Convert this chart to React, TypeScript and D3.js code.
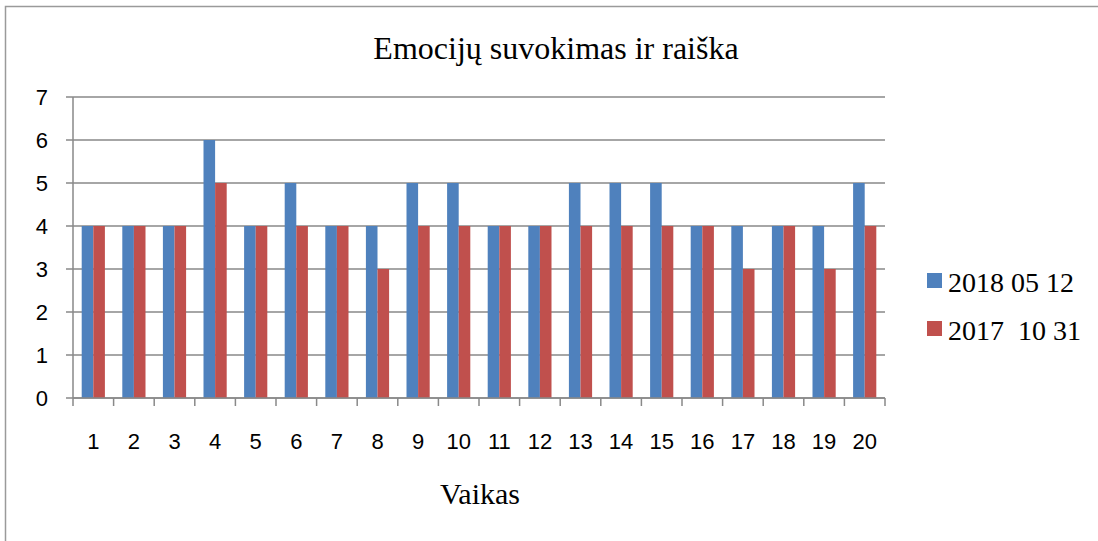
import { useEffect, useRef } from "react";
import * as d3 from "d3";

const categories = ["1", "2", "3", "4", "5", "6", "7", "8", "9", "10", "11", "12", "13", "14", "15", "16", "17", "18", "19", "20"];
const seriesNames = ["2018 05 12", "2017  10 31"];
const values2018 = [4, 4, 4, 6, 4, 5, 4, 4, 5, 5, 4, 4, 5, 5, 5, 4, 4, 4, 4, 5];
const values2017 = [4, 4, 4, 5, 4, 4, 4, 3, 4, 4, 4, 4, 4, 4, 4, 4, 3, 4, 3, 4];
const yTicks = [0, 1, 2, 3, 4, 5, 6, 7];
const colors = ["#4F81BD", "#C0504D"];

export default function App() {
  const ref = useRef<SVGSVGElement>(null);

  useEffect(() => {
    const width = 1098;
    const height = 541;
    const margin = { top: 97, right: 213, bottom: 143, left: 73 };
    const grey = "#898989";
    const sans = "Liberation Sans, Arial, sans-serif";
    const serif = "Liberation Serif, Times New Roman, DejaVu Serif, serif";

    const svg = d3.select(ref.current).attr("width", width).attr("height", height);
    svg.selectAll("*").remove();

    // outer frame (only left/top visible in the picture)
    svg
      .append("rect")
      .attr("x", 5.5)
      .attr("y", 6.5)
      .attr("width", width + 20)
      .attr("height", height + 20)
      .attr("fill", "white")
      .attr("stroke", "#9a9a9a")
      .attr("stroke-width", 1.5);

    const x0 = d3
      .scaleBand()
      .domain(categories)
      .range([margin.left, width - margin.right])
      .paddingInner(0.4286)
      .paddingOuter(0.2143);

    const x1 = d3.scaleBand().domain(seriesNames).range([0, x0.bandwidth()]);

    const y = d3
      .scaleLinear()
      .domain([0, 7])
      .range([height - margin.bottom, margin.top]);

    // gridlines
    svg
      .append("g")
      .selectAll("line")
      .data(yTicks)
      .join("line")
      .attr("x1", margin.left - 7)
      .attr("x2", width - margin.right)
      .attr("y1", d => y(d))
      .attr("y2", d => y(d))
      .attr("stroke", grey)
      .attr("stroke-width", 1.5);

    // y axis line
    svg
      .append("line")
      .attr("x1", margin.left)
      .attr("x2", margin.left)
      .attr("y1", y(7))
      .attr("y2", y(0))
      .attr("stroke", grey)
      .attr("stroke-width", 1.5);

    svg
      .append("g")
      .selectAll("text")
      .data(yTicks)
      .join("text")
      .attr("x", 48)
      .attr("y", d => y(d) + 8)
      .attr("text-anchor", "end")
      .style("font-family", sans)
      .style("font-size", "22px")
      .text(d => d);

    // bars
    const data = [values2018, values2017];
    data.forEach((vals, si) => {
      svg
        .append("g")
        .selectAll("rect")
        .data(vals)
        .join("rect")
        .attr("x", (d, i) => (x0(categories[i]) as number) + (x1(seriesNames[si]) as number))
        .attr("y", d => y(d))
        .attr("width", x1.bandwidth())
        .attr("height", d => y(0) - y(d))
        .attr("fill", colors[si]);
    });

    // x axis
    const step = x0.step();
    svg
      .append("line")
      .attr("x1", margin.left)
      .attr("x2", width - margin.right)
      .attr("y1", y(0))
      .attr("y2", y(0))
      .attr("stroke", grey)
      .attr("stroke-width", 1.5);

    const boundaries = d3.range(categories.length + 1).map(i => margin.left + i * step);
    svg
      .append("g")
      .selectAll("line")
      .data(boundaries)
      .join("line")
      .attr("x1", d => d)
      .attr("x2", d => d)
      .attr("y1", y(0))
      .attr("y2", y(0) + 8)
      .attr("stroke", grey)
      .attr("stroke-width", 1.5);

    svg
      .append("g")
      .selectAll("text")
      .data(categories)
      .join("text")
      .attr("x", d => (x0(d) as number) + x0.bandwidth() / 2)
      .attr("y", 449)
      .attr("text-anchor", "middle")
      .style("font-family", sans)
      .style("font-size", "22px")
      .text(d => d);

    // title
    svg
      .append("text")
      .attr("x", 556)
      .attr("y", 59)
      .attr("text-anchor", "middle")
      .style("font-family", serif)
      .style("font-size", "32px")
      .text("Emocijų suvokimas ir raiška");

    svg
      .append("text")
      .attr("x", 480)
      .attr("y", 504)
      .attr("text-anchor", "middle")
      .style("font-family", serif)
      .style("font-size", "30px")
      .text("Vaikas");

    // legend
    const legend = svg
      .append("g")
      .selectAll("g")
      .data(seriesNames)
      .join("g")
      .attr("transform", (d, i) => `translate(927,${273 + i * 48})`);

    legend
      .append("rect")
      .attr("width", 15)
      .attr("height", 15)
      .attr("fill", (d, i) => colors[i]);

    legend
      .append("text")
      .attr("x", 21)
      .attr("y", 19)
      .style("font-family", serif)
      .style("font-size", "28px")
      .style("white-space", "pre")
      .text(d => d);
  }, []);

  return (
    <svg
      ref={ref}
      style={{ position: "absolute", left: 0, top: 0, display: "block", overflow: "hidden" }}
    />
  );
}
